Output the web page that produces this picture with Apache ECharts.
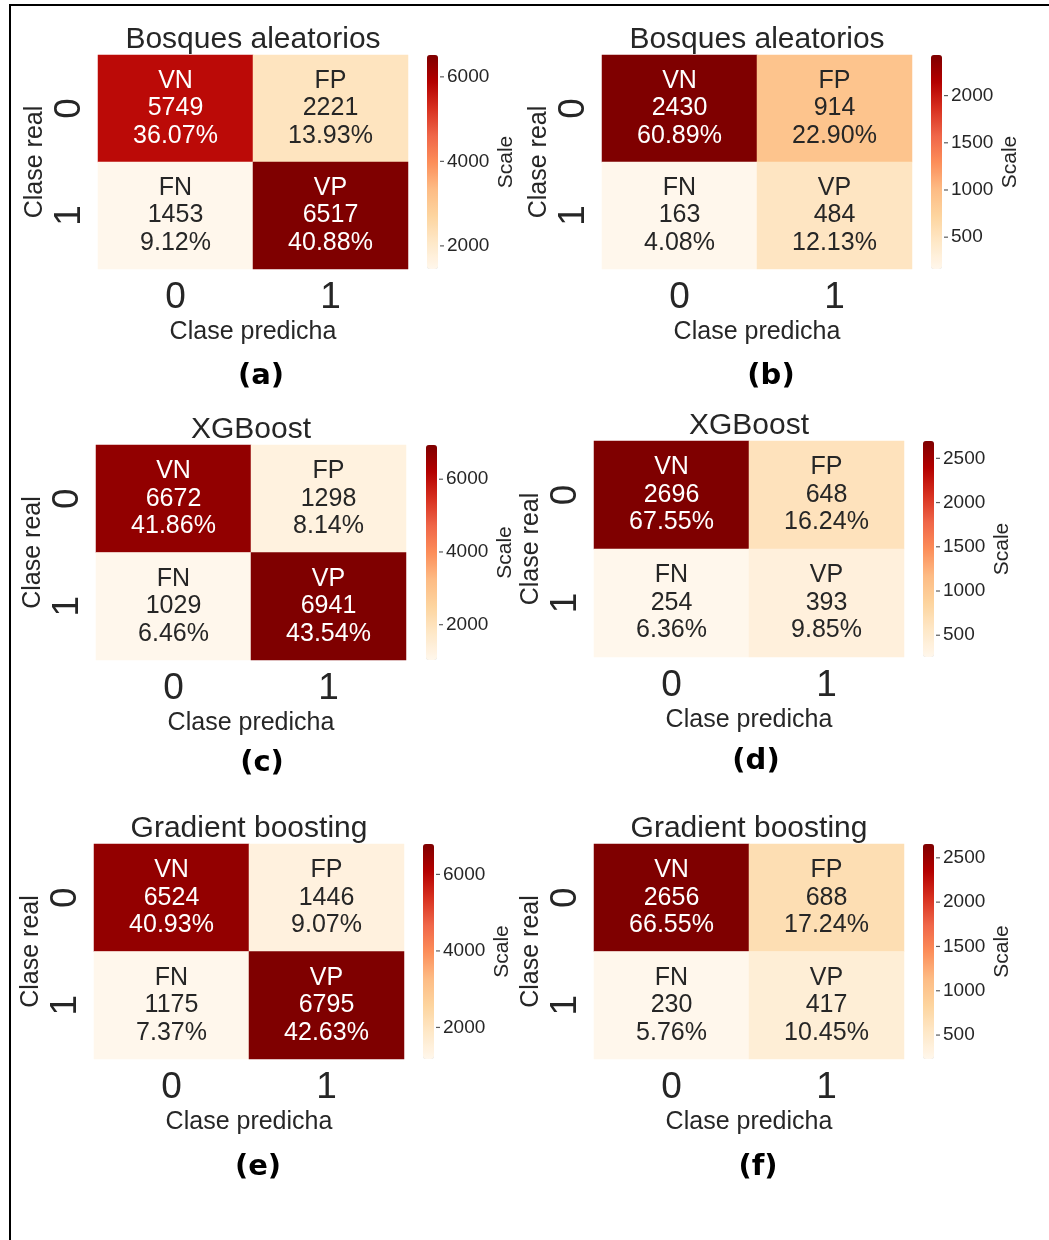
<!DOCTYPE html>
<html><head><meta charset="utf-8">
<script src="https://cdn.jsdelivr.net/npm/echarts@6.0.0/dist/echarts.min.js"></script>
<style>html,body{margin:0;padding:0;background:#fff}#c{width:1049px;height:1240px}</style>
</head><body><div id="c"></div>
<script>
// ---- data ----
const modelTitles = ['Bosques aleatorios', 'Bosques aleatorios', 'XGBoost', 'XGBoost', 'Gradient boosting', 'Gradient boosting'];
const panelLabels = ['(a)', '(b)', '(c)', '(d)', '(e)', '(f)'];
const classLabels = ['0', '1'];
const cellNames = ['VN', 'FP', 'FN', 'VP'];
const countsA = [5749, 2221, 1453, 6517];
const countsB = [2430, 914, 163, 484];
const countsC = [6672, 1298, 1029, 6941];
const countsD = [2696, 648, 254, 393];
const countsE = [6524, 1446, 1175, 6795];
const countsF = [2656, 688, 230, 417];
const pctA = ['36.07%', '13.93%', '9.12%', '40.88%'];
const pctB = ['60.89%', '22.90%', '4.08%', '12.13%'];
const pctC = ['41.86%', '8.14%', '6.46%', '43.54%'];
const pctD = ['67.55%', '16.24%', '6.36%', '9.85%'];
const pctE = ['40.93%', '9.07%', '7.37%', '42.63%'];
const pctF = ['66.55%', '17.24%', '5.76%', '10.45%'];
const ticksA = [2000, 4000, 6000];
const ticksB = [500, 1000, 1500, 2000];
const ticksC = [2000, 4000, 6000];
const ticksD = [500, 1000, 1500, 2000, 2500];
const ticksE = [2000, 4000, 6000];
const ticksF = [500, 1000, 1500, 2000, 2500];
const colorbarName = 'Scale';
const xName = 'Clase predicha';
const yName = 'Clase real';

// ---- layout / style ----
const counts = [countsA, countsB, countsC, countsD, countsE, countsF];
const pcts = [pctA, pctB, pctC, pctD, pctE, pctF];
const ticks = [ticksA, ticksB, ticksC, ticksD, ticksE, ticksF];
const layout = [
  {hx: 98, hy: 55, hw: 310, hh: 214, cb: 427, lx: 261, ly: 376},
  {hx: 602, hy: 55, hw: 310, hh: 214, cb: 931, lx: 771, ly: 376},
  {hx: 96, hy: 445, hw: 310, hh: 215, cb: 426, lx: 262, ly: 763},
  {hx: 594, hy: 441, hw: 310, hh: 216, cb: 923, lx: 756, ly: 761},
  {hx: 94, hy: 844, hw: 310, hh: 215, cb: 423, lx: 258, ly: 1167},
  {hx: 594, hy: 844, hw: 310, hh: 215, cb: 923, lx: 758, ly: 1167}
];
const OrRd = ['#fff7ec', '#fee8c8', '#fdd49e', '#fdbb84', '#fc8d59', '#ef6548', '#d7301f', '#b30000', '#7f0000'];
const FONT = 'Liberation Sans, Arial, sans-serif';
const TXT = '#262626';

const option = {
  backgroundColor: '#fff',
  animation: false,
  textStyle: {fontFamily: FONT},
  title: [], grid: [], xAxis: [], yAxis: [], visualMap: [], series: [],
  graphic: [{
    type: 'rect', shape: {x: 10, y: 5, width: 1100, height: 1300},
    style: {fill: 'none', stroke: '#000', lineWidth: 2}, silent: true
  }]
};

for (let i = 0; i < 6; i++) {
  const L = layout[i];
  const vals = counts[i];
  const vmin = Math.min(...vals), vmax = Math.max(...vals);
  option.title.push({
    text: modelTitles[i], left: L.hx + L.hw / 2, top: L.hy - 15, padding: 0,
    textAlign: 'center', textVerticalAlign: 'middle',
    textStyle: {fontFamily: FONT, fontSize: 30, fontWeight: 'normal', color: TXT}
  });
  option.title.push({
    text: panelLabels[i], left: L.lx, top: L.ly, padding: 0,
    textAlign: 'center', textVerticalAlign: 'middle',
    textStyle: {fontFamily: 'DejaVu Sans', fontSize: 29, fontWeight: 'bold', color: '#000'}
  });
  // heatmap grid
  option.grid.push({left: L.hx, top: L.hy, width: L.hw, height: L.hh, containLabel: false});
  option.xAxis.push({
    type: 'category', data: classLabels, gridIndex: i, position: 'bottom',
    axisLine: {show: false}, axisTick: {show: false}, splitLine: {show: false},
    axisLabel: {fontSize: 37, color: TXT, margin: 10, fontFamily: FONT},
    name: xName, nameLocation: 'middle', nameGap: 51,
    nameTextStyle: {fontSize: 25, color: TXT, fontFamily: FONT}
  });
  option.yAxis.push({
    type: 'category', data: classLabels, gridIndex: i, inverse: true,
    axisLine: {show: false}, axisTick: {show: false}, splitLine: {show: false},
    axisLabel: {fontSize: 37, color: TXT, margin: 10, rotate: 90, fontFamily: FONT},
    name: yName, nameLocation: 'middle', nameGap: 50, nameRotate: 90,
    nameTextStyle: {fontSize: 25, color: TXT, fontFamily: FONT}
  });
  option.visualMap.push({
    type: 'continuous', min: vmin, max: vmax, seriesIndex: i,
    left: L.cb, top: L.hy, itemWidth: 11, itemHeight: L.hh, padding: 0,
    calculable: false, hoverLink: false, inRange: {color: OrRd}
  });
  const data = [];
  for (let k = 0; k < 4; k++) {
    const v = vals[k];
    const t = (v - vmin) / (vmax - vmin);
    data.push({value: [k % 2, Math.floor(k / 2), v], label: {color: t > 0.6 ? '#ffffff' : TXT}});
  }
  option.series.push({
    type: 'heatmap', xAxisIndex: i, yAxisIndex: i, data: data,
    label: {
      show: true, fontSize: 25, lineHeight: 27.5, fontFamily: FONT,
      formatter: (p) => cellNames[p.dataIndex] + '\n' + vals[p.dataIndex] + '\n' + pcts[i][p.dataIndex]
    },
    emphasis: {disabled: true}, itemStyle: {borderWidth: 0}
  });
}
// colorbar tick axes
for (let i = 0; i < 6; i++) {
  const L = layout[i];
  const vals = counts[i];
  const vmin = Math.min(...vals), vmax = Math.max(...vals);
  option.grid.push({left: L.cb, top: L.hy, width: 11, height: L.hh, containLabel: false});
  option.xAxis.push({type: 'value', gridIndex: 6 + i, show: false, min: 0, max: 1});
  option.yAxis.push({
    type: 'value', gridIndex: 6 + i, position: 'right', min: vmin, max: vmax,
    axisLine: {show: false}, splitLine: {show: false},
    axisTick: {show: false},
    axisLabel: {show: true, customValues: ticks[i], fontSize: 19, color: TXT, margin: 9, fontFamily: FONT,
      formatter: (v) => String(v)},
    name: colorbarName, nameLocation: 'middle', nameRotate: 90, nameGap: 58,
    nameTextStyle: {fontSize: 21, color: TXT, fontFamily: FONT}
  });
  // tick marks of the colorbar, placed through the colorbar axis
  option.series.push({
    type: 'scatter', xAxisIndex: 6 + i, yAxisIndex: 6 + i,
    data: ticks[i].map(v => [1, v]),
    symbol: 'rect', symbolSize: [4, 1.2], symbolOffset: [4, 0],
    itemStyle: {color: '#333'}, silent: true, emphasis: {disabled: true}, z: 5
  });
}

const chart = echarts.init(document.getElementById('c'), null, {renderer: 'canvas'});
chart.setOption(option);
</script>
</body></html>
